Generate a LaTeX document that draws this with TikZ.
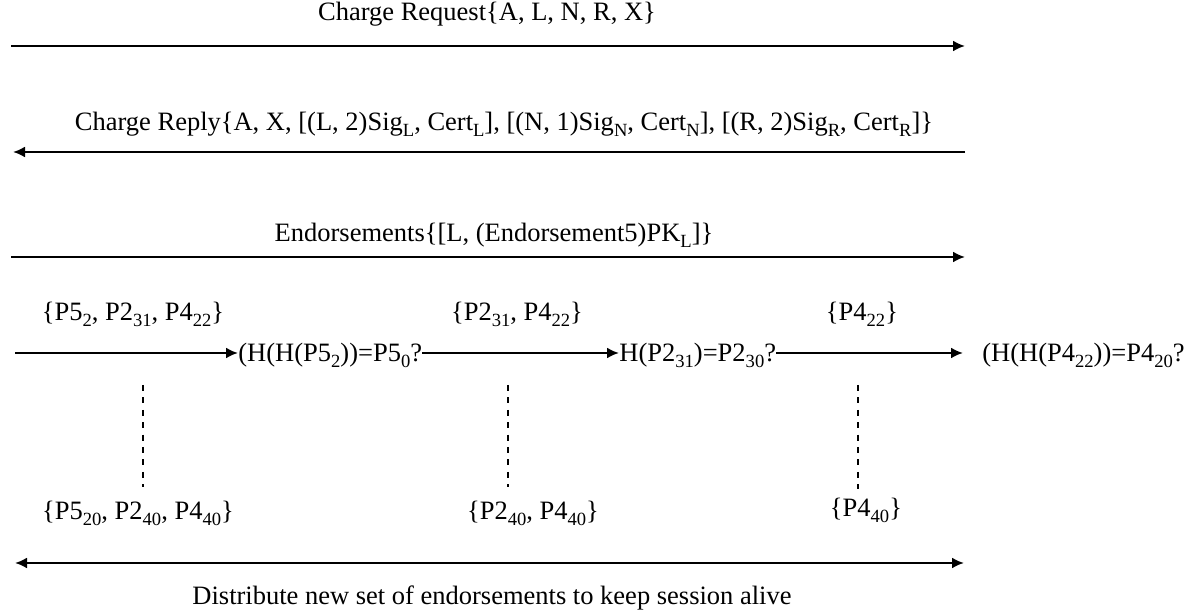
\documentclass[tikz,border=0pt]{standalone}
\usepackage{fontspec}
\setmainfont{Liberation Serif}
\usetikzlibrary{arrows.meta}

% lowered, smaller index in the style of a word processor subscript
\newcommand{\lowidx}[1]{\raisebox{-2.8pt}{\fontsize{9.3}{10}\selectfont #1}}

\tikzset{
  txt/.style={font=\fontsize{13.25}{16}\selectfont, inner sep=0pt},
  chain/.style={txt, anchor=base west, text height=11pt, text depth=2pt},
  tip/.tip={Latex[length=6pt,width=5.5pt]},
  msg/.style={line width=1.1pt, -tip},
  both/.style={line width=1.1pt, tip-tip},
  guide/.style={line width=1pt, dash pattern=on 3pt off 3.2pt},
}

\begin{document}
\begin{tikzpicture}[x=0.5pt, y=-0.5pt]
  \useasboundingbox (0,0) rectangle (1191,613);
  \fill[white] (0,0) rectangle (1191,613);

  % charge request
  \node[txt, anchor=base] (req) at (487,21) {Charge Request\{A, L, N, R, X\}};
  \coordinate (reqA) at (11,46);
  \coordinate (reqB) at (965,46);
  \draw[msg] (reqA) -- (reqB);

  % charge reply
  \node[txt, anchor=base] (rep) at (504,131) {Charge Reply\{A, X, [(L, 2)Sig\lowidx{L}, Cert\lowidx{L}], [(N, 1)Sig\lowidx{N}, Cert\lowidx{N}], [(R, 2)Sig\lowidx{R}, Cert\lowidx{R}]\}};
  \coordinate (repA) at (965,152);
  \coordinate (repB) at (13,152);
  \draw[msg] (repA) -- (repB);

  % endorsements
  \node[txt, anchor=base] (end) at (494,242) {Endorsements\{[L, (Endorsement5)PK\lowidx{L}]\}};
  \coordinate (endA) at (11,257);
  \coordinate (endB) at (965,257);
  \draw[msg] (endA) -- (endB);

  % hash chain checks
  \coordinate (c0) at (15,353);
  \node[chain] (t1) at (238,362) {(H(H(P5\lowidx{2}))=P5\lowidx{0}?};
  \node[chain] (t2) at (619,362) {H(P2\lowidx{31})=P2\lowidx{30}?};
  \node[chain] (t3) at (982,362) {(H(H(P4\lowidx{22}))=P4\lowidx{20}?};
  \draw[msg] (c0) -- (t1.west);
  \draw[msg] (t1.east) -- (t2.west);
  \draw[msg, shorten >=9.5pt] (t2.east) -- (t3.west);

  \node[txt, anchor=base] (s1) at (133,321) {\{P5\lowidx{2}, P2\lowidx{31}, P4\lowidx{22}\}};
  \node[txt, anchor=base] (s2) at (517,321) {\{P2\lowidx{31}, P4\lowidx{22}\}};
  \node[txt, anchor=base] (s3) at (862,321) {\{P4\lowidx{22}\}};

  % remaining endorsements
  \node[txt, anchor=base] (r1) at (138,520) {\{P5\lowidx{20}, P2\lowidx{40}, P4\lowidx{40}\}};
  \node[txt, anchor=base] (r2) at (533,520) {\{P2\lowidx{40}, P4\lowidx{40}\}};
  \node[txt, anchor=base] (r3) at (866,517) {\{P4\lowidx{40}\}};

  \coordinate (d1a) at (143,385); \coordinate (d1b) at (143,487);
  \coordinate (d2a) at (508,385); \coordinate (d2b) at (508,487);
  \coordinate (d3a) at (858,385); \coordinate (d3b) at (858,489);
  \draw[guide] (d1a) -- (d1b);
  \draw[guide] (d2a) -- (d2b);
  \draw[guide] (d3a) -- (d3b);

  % distribution
  \coordinate (disA) at (15,563);
  \coordinate (disB) at (964,563);
  \draw[both] (disA) -- (disB);
  \node[txt, anchor=base] (dis) at (492,605) {Distribute new set of endorsements to keep session alive};
\end{tikzpicture}
\end{document}
